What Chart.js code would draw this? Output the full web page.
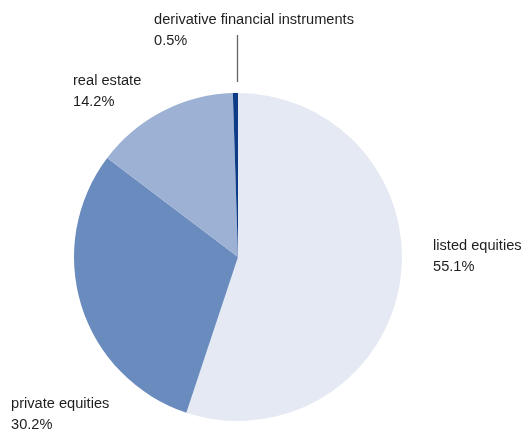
<!DOCTYPE html>
<html lang="en">
<head>
    <meta charset="UTF-8">
    <title>Asset allocation</title>
    <script src="https://cdn.jsdelivr.net/npm/chart.js"></script>
    <style>
        html, body { margin: 0; padding: 0; background: #fff; }
        .chart-container { position: relative; width: 523px; height: 432px; }
    </style>
</head>
<body>
    <div class="chart-container">
        <canvas id="pieChart"></canvas>
    </div>

    <script>
        // Datos del gráfico
        const categories = ['listed equities', 'private equities', 'real estate', 'derivative financial instruments'];
        const shares = [55.1, 30.2, 14.2, 0.5];
        const colors = ['#e5e9f3', '#6a8bbd', '#9cb1d4', '#0d3b85'];

        // posiciones de las etiquetas (texto fuera del pastel)
        const labelPos = [
            { x: 433, y: 246 },
            { x: 11, y: 404 },
            { x: 73, y: 81 },
            { x: 154, y: 20 }
        ];

        const labelPlugin = {
            id: 'outerLabels',
            afterDraw(chart) {
                const ctx = chart.ctx;
                ctx.save();
                ctx.font = '15.5px "Liberation Sans", Arial, sans-serif';
                ctx.fillStyle = '#1e1e1e';
                ctx.textBaseline = 'middle';
                ctx.textAlign = 'left';
                // letra condensada: escalar horizontalmente
                const sx = 200 / ctx.measureText(categories[3]).width;
                categories.forEach((name, i) => {
                    const p = labelPos[i];
                    ctx.save();
                    ctx.translate(p.x, p.y);
                    ctx.scale(sx, 1);
                    ctx.fillText(name, 0, 0);
                    ctx.fillText(shares[i].toFixed(1) + '%', 0, 21);
                    ctx.restore();
                });
                // linea guia para el segmento pequeño
                const arc = chart.getDatasetMeta(0).data[3];
                const x = Math.round(arc.x) - 1;
                ctx.strokeStyle = '#666';
                ctx.lineWidth = 1.3;
                ctx.beginPath();
                ctx.moveTo(x + 0.5, 35);
                ctx.lineTo(x + 0.5, 82);
                ctx.stroke();
                ctx.restore();
            }
        };

        new Chart(document.getElementById('pieChart'), {
            type: 'pie',
            data: {
                labels: categories,
                datasets: [{
                    data: shares,
                    backgroundColor: colors,
                    borderWidth: 0
                }]
            },
            options: {
                responsive: true,
                maintainAspectRatio: false,
                animation: false,
                layout: {
                    padding: { left: 74, right: 121, top: 93, bottom: 11 }
                },
                plugins: {
                    legend: { display: false },
                    tooltip: { enabled: false }
                }
            },
            plugins: [labelPlugin]
        });
    </script>
</body>
</html>
